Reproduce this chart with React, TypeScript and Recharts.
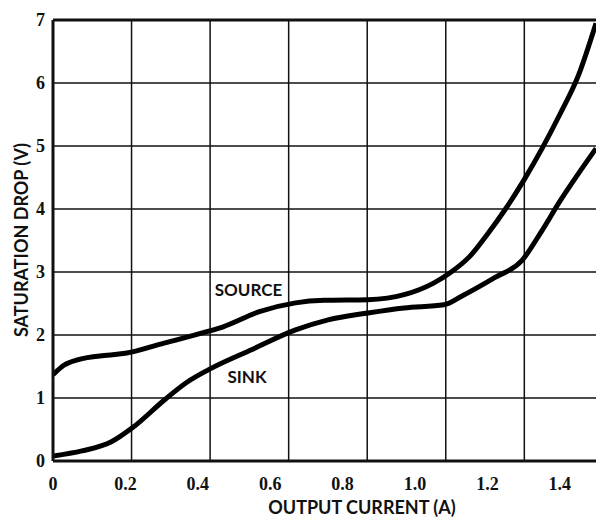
import {
  CartesianGrid,
  Line,
  LineChart,
  ReferenceDot,
  ReferenceLine,
  XAxis,
  YAxis,
} from "recharts";

// curves (A, V)
const sourceCurrent = [0, 0.03, 0.07, 0.15, 0.2, 0.3, 0.43, 0.47, 0.57, 0.67, 0.75, 0.87, 0.97, 1.05, 1.1, 1.15, 1.2, 1.25, 1.3, 1.35, 1.4, 1.45, 1.5];
const sourceDrop = [1.37, 1.52, 1.61, 1.68, 1.71, 1.86, 2.06, 2.13, 2.37, 2.51, 2.55, 2.56, 2.64, 2.82, 3.0, 3.24, 3.6, 4.0, 4.45, 4.95, 5.5, 6.1, 6.95];

const sinkCurrent = [0, 0.08, 0.16, 0.22, 0.31, 0.37, 0.43, 0.55, 0.67, 0.76, 0.87, 0.97, 1.08, 1.13, 1.22, 1.295, 1.35, 1.4, 1.45, 1.5];
const sinkDrop = [0.08, 0.16, 0.3, 0.53, 0.98, 1.25, 1.45, 1.77, 2.08, 2.24, 2.35, 2.43, 2.48, 2.62, 2.91, 3.18, 3.65, 4.12, 4.55, 4.96];

const xTicks = [0, 0.2, 0.4, 0.6, 0.8, 1.0, 1.2, 1.4];
const yTicks = [0, 1, 2, 3, 4, 5, 6, 7];
// the printed grid is a bit wider than the labelled scale: one cell = 0.217 A
const gridCells = [1, 2, 3, 4, 5, 6];
const gridStep = 0.217;

const sourceRows = sourceCurrent.map((x, i) => ({ x, y: sourceDrop[i] }));
const sinkRows = sinkCurrent.map((x, i) => ({ x, y: sinkDrop[i] }));

const digitFont = "'Liberation Serif', 'DejaVu Serif', serif";
const titleFont = "Lato, 'Open Sans', sans-serif";

function XTick(props: any) {
  const { x, y, payload } = props;
  const v = payload.value as number;
  return (
    <text x={x} y={y + 29} textAnchor="middle" fontSize={18} fontWeight={700} fontFamily={digitFont} fill="#111">
      {v === 0 ? "0" : v.toFixed(1)}
    </text>
  );
}

function YTick(props: any) {
  const { x, y, payload } = props;
  return (
    <text x={x} y={y} dy="0.35em" textAnchor="end" fontSize={18} fontWeight={700} fontFamily={digitFont} fill="#111">
      {payload.value}
    </text>
  );
}

function XTitle() {
  return (
    <text x={362} y={514} textAnchor="middle" fontSize={18} fontWeight={700} fontFamily={titleFont} fill="#111">
      OUTPUT CURRENT (A)
    </text>
  );
}

function YTitle() {
  return (
    <text
      x={28}
      y={240}
      transform="rotate(-90 28 240)"
      textAnchor="middle"
      fontSize={18}
      fontWeight={700}
      fontFamily={titleFont}
      fill="#111"
    >
      SATURATION DROP (V)
    </text>
  );
}

function curveLabel(text: string) {
  return (props: any) => {
    const vb = props.viewBox || {};
    const cx = (vb.x ?? 0) + (vb.width ?? 0) / 2;
    const cy = (vb.y ?? 0) + (vb.height ?? 0) / 2;
    return (
      <text x={cx} y={cy} dy="0.35em" textAnchor="middle" fontSize={17} fontWeight={700} fontFamily={titleFont} fill="#111">
        {text}
      </text>
    );
  };
}

export default function App() {
  return (
    <div style={{ position: "absolute", left: 0, top: 0, background: "#fff" }}>
      <LineChart width={596} height={521} margin={{ top: 20, right: 0, left: 0, bottom: 0 }}>
        <CartesianGrid stroke="#111" strokeWidth={1.5} vertical={false} />
        <XAxis
          dataKey="x"
          type="number"
          domain={[0, 1.5]}
          ticks={xTicks}
          allowDataOverflow
          tick={<XTick />}
          tickLine={false}
          tickSize={0}
          tickMargin={0}
          height={60}
          axisLine={{ stroke: "#111", strokeWidth: 3 }}
          label={<XTitle />}
        />
        <YAxis
          type="number"
          domain={[0, 7]}
          ticks={yTicks}
          allowDataOverflow
          tick={<YTick />}
          tickLine={false}
          tickSize={0}
          tickMargin={8}
          width={53}
          axisLine={{ stroke: "#111", strokeWidth: 3 }}
          label={<YTitle />}
        />
        {gridCells.map((g) => (
          <ReferenceLine key={g} x={g * gridStep} stroke="#111" strokeWidth={1.5} />
        ))}
        <ReferenceLine y={7} stroke="#111" strokeWidth={3} />
        <Line
          data={sourceRows}
          dataKey="y"
          type="monotone"
          stroke="#000"
          strokeWidth={5}
          dot={false}
          isAnimationActive={false}
        />
        <Line
          data={sinkRows}
          dataKey="y"
          type="monotone"
          stroke="#000"
          strokeWidth={5}
          dot={false}
          isAnimationActive={false}
        />
        <ReferenceDot x={0.54} y={2.72} r={0} fill="none" stroke="none" label={curveLabel("SOURCE")} />
        <ReferenceDot x={0.536} y={1.33} r={0} fill="none" stroke="none" label={curveLabel("SINK")} />
      </LineChart>
    </div>
  );
}
